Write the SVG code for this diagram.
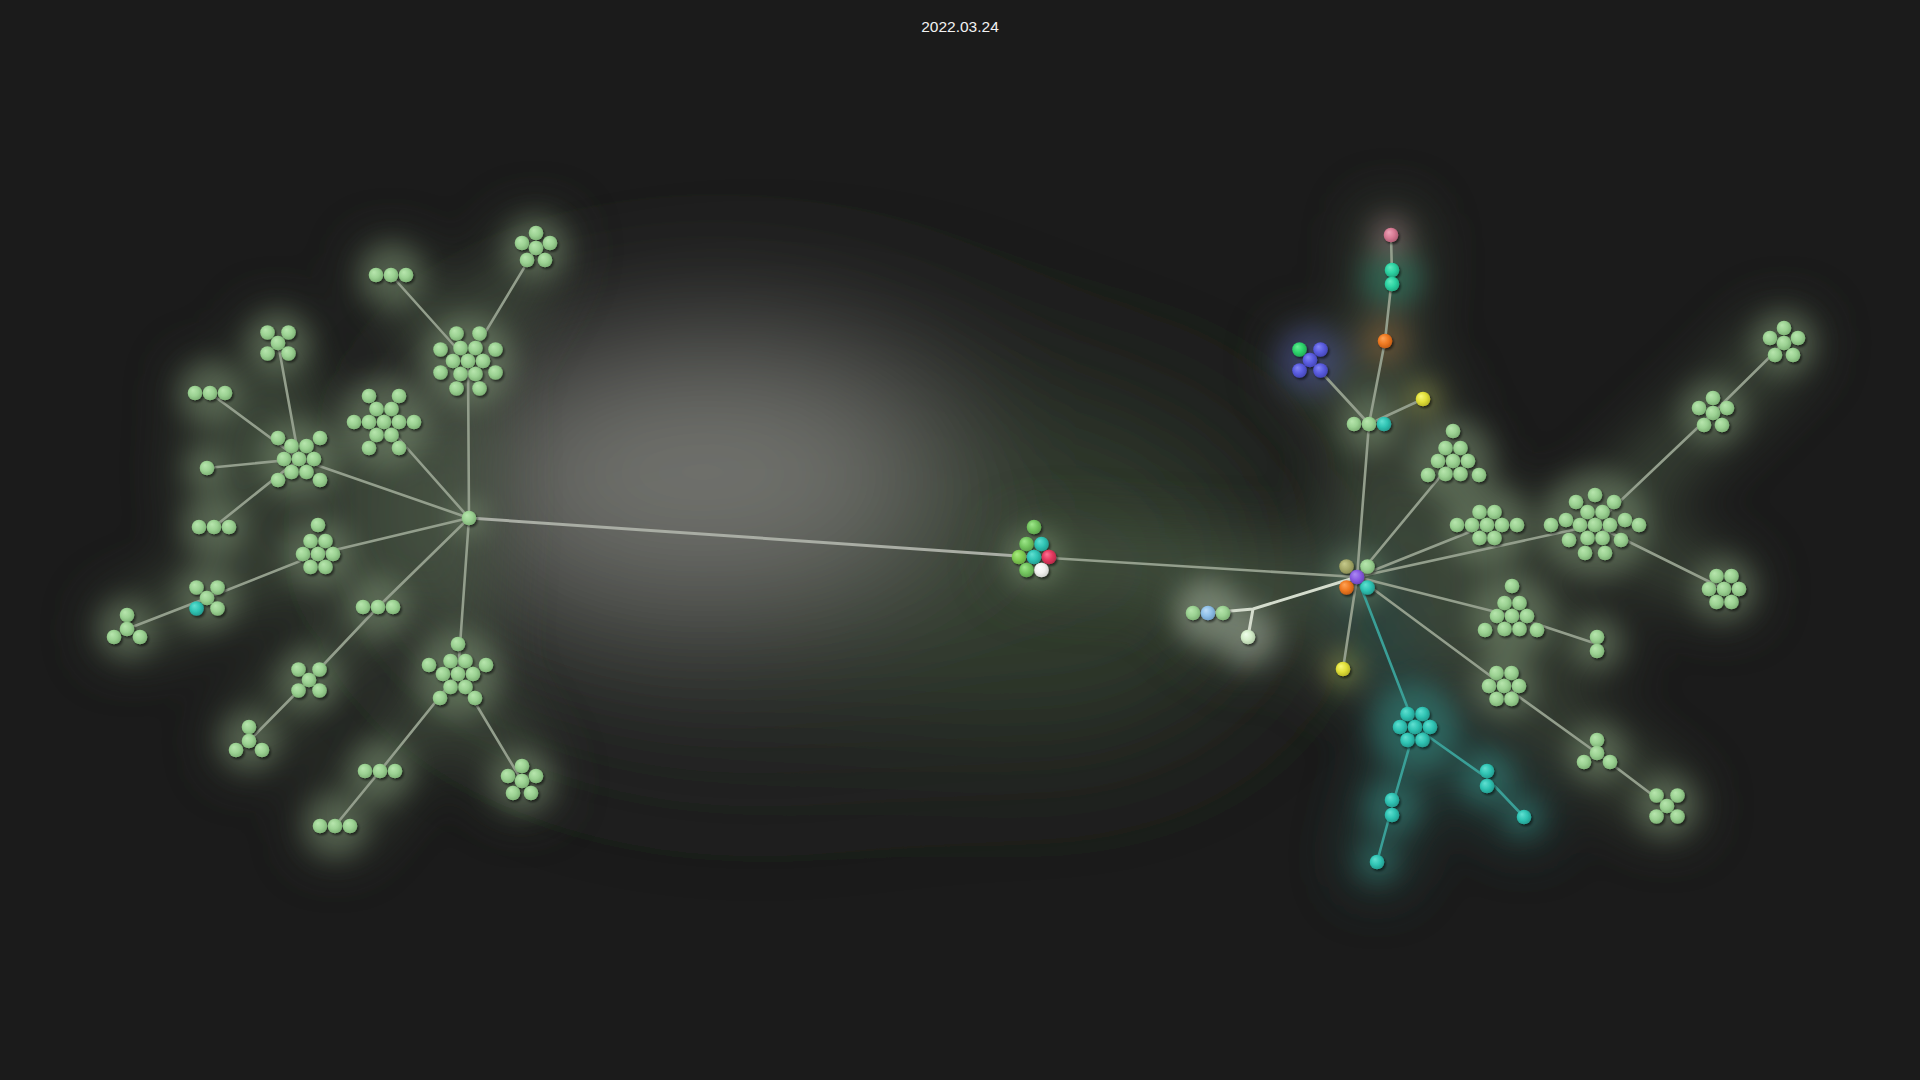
<svg xmlns="http://www.w3.org/2000/svg" width="1920" height="1080" viewBox="0 0 1920 1080">
<defs>
<style>
.e{stroke:#939e8c;stroke-width:2.6;fill:none;stroke-linecap:round}
.et{stroke:#3a9f97}
.ew{stroke:#d4dccd;stroke-width:3}
.em{stroke:#a9ada4;stroke-width:3}
.n{filter:url(#sh)}
.g{fill:url(#cG)}.t{fill:url(#cT)}.t2{fill:url(#cT2)}.o{fill:url(#cO)}.p{fill:url(#cP)}.y{fill:url(#cY)}
.b{fill:url(#cB)}.gg{fill:url(#cGG)}.u{fill:url(#cU)}.ol{fill:url(#cOL)}.lb{fill:url(#cLB)}.w{fill:url(#cW)}
.r{fill:url(#cR)}.wh{fill:url(#cWH)}.g2{fill:url(#cG2)}.g3{fill:url(#cG3)}
.title{font-family:"Liberation Sans",Arial,sans-serif;font-size:15.5px;fill:#f2f2f2}
.halo{fill:#a3bf96}
</style>
<radialGradient id="cG" cx="0.45" cy="0.45" r="0.6" fx="0.35" fy="0.3"><stop offset="0" stop-color="#b8e6ae"/><stop offset="0.55" stop-color="#9cd293"/><stop offset="1" stop-color="#7aae72"/></radialGradient>
<radialGradient id="cT" cx="0.45" cy="0.45" r="0.6" fx="0.35" fy="0.3"><stop offset="0" stop-color="#62e0d2"/><stop offset="0.55" stop-color="#30c4b4"/><stop offset="1" stop-color="#22988c"/></radialGradient>
<radialGradient id="cT2" cx="0.45" cy="0.45" r="0.6" fx="0.35" fy="0.3"><stop offset="0" stop-color="#62eabe"/><stop offset="0.55" stop-color="#2dd3a3"/><stop offset="1" stop-color="#20a47e"/></radialGradient>
<radialGradient id="cO" cx="0.45" cy="0.45" r="0.6" fx="0.35" fy="0.3"><stop offset="0" stop-color="#ffa458"/><stop offset="0.55" stop-color="#ef7a22"/><stop offset="1" stop-color="#c05a14"/></radialGradient>
<radialGradient id="cP" cx="0.45" cy="0.45" r="0.6" fx="0.35" fy="0.3"><stop offset="0" stop-color="#eea4b8"/><stop offset="0.55" stop-color="#d77b94"/><stop offset="1" stop-color="#aa5a70"/></radialGradient>
<radialGradient id="cY" cx="0.45" cy="0.45" r="0.6" fx="0.35" fy="0.3"><stop offset="0" stop-color="#f8f87a"/><stop offset="0.55" stop-color="#e2e03a"/><stop offset="1" stop-color="#b4b224"/></radialGradient>
<radialGradient id="cB" cx="0.45" cy="0.45" r="0.6" fx="0.35" fy="0.3"><stop offset="0" stop-color="#8486f6"/><stop offset="0.55" stop-color="#5a5ce0"/><stop offset="1" stop-color="#4244b4"/></radialGradient>
<radialGradient id="cGG" cx="0.45" cy="0.45" r="0.6" fx="0.35" fy="0.3"><stop offset="0" stop-color="#68ee94"/><stop offset="0.55" stop-color="#2ed46c"/><stop offset="1" stop-color="#20a452"/></radialGradient>
<radialGradient id="cU" cx="0.45" cy="0.45" r="0.6" fx="0.35" fy="0.3"><stop offset="0" stop-color="#ac8af2"/><stop offset="0.55" stop-color="#8a5ce2"/><stop offset="1" stop-color="#6842b4"/></radialGradient>
<radialGradient id="cOL" cx="0.45" cy="0.45" r="0.6" fx="0.35" fy="0.3"><stop offset="0" stop-color="#c6ca8c"/><stop offset="0.55" stop-color="#a6aa6a"/><stop offset="1" stop-color="#848850"/></radialGradient>
<radialGradient id="cLB" cx="0.45" cy="0.45" r="0.6" fx="0.35" fy="0.3"><stop offset="0" stop-color="#bcdcf8"/><stop offset="0.55" stop-color="#90c0e8"/><stop offset="1" stop-color="#6e9cc4"/></radialGradient>
<radialGradient id="cW" cx="0.45" cy="0.45" r="0.6" fx="0.35" fy="0.3"><stop offset="0" stop-color="#f0ffec"/><stop offset="0.55" stop-color="#d4eeca"/><stop offset="1" stop-color="#aec8a4"/></radialGradient>
<radialGradient id="cR" cx="0.45" cy="0.45" r="0.6" fx="0.35" fy="0.3"><stop offset="0" stop-color="#ff7494"/><stop offset="0.55" stop-color="#e43a60"/><stop offset="1" stop-color="#b42646"/></radialGradient>
<radialGradient id="cWH" cx="0.45" cy="0.45" r="0.6" fx="0.35" fy="0.3"><stop offset="0" stop-color="#ffffff"/><stop offset="0.55" stop-color="#f2f2f0"/><stop offset="1" stop-color="#cfd0cc"/></radialGradient>
<radialGradient id="cG2" cx="0.45" cy="0.45" r="0.6" fx="0.35" fy="0.3"><stop offset="0" stop-color="#a0e88c"/><stop offset="0.55" stop-color="#74c660"/><stop offset="1" stop-color="#5a9e4a"/></radialGradient>
<radialGradient id="cG3" cx="0.45" cy="0.45" r="0.6" fx="0.35" fy="0.3"><stop offset="0" stop-color="#aaec82"/><stop offset="0.55" stop-color="#82ce54"/><stop offset="1" stop-color="#64a240"/></radialGradient>
<filter id="sh" x="-30%" y="-30%" width="160%" height="160%"><feDropShadow dx="1.6" dy="2" stdDeviation="1.3" flood-color="#000" flood-opacity="0.55"/></filter>
<filter id="bBig" filterUnits="userSpaceOnUse" x="0" y="0" width="1920" height="1080"><feGaussianBlur stdDeviation="75"/></filter>
<filter id="bMid" filterUnits="userSpaceOnUse" x="0" y="0" width="1920" height="1080"><feGaussianBlur stdDeviation="30"/></filter>
<filter id="bSm" filterUnits="userSpaceOnUse" x="0" y="0" width="1920" height="1080"><feGaussianBlur stdDeviation="13"/></filter>
</defs>

<rect width="1920" height="1080" fill="#1b1b1b"/>

<g id="haze">
  <g filter="url(#bBig)">
    <ellipse cx="760" cy="540" rx="380" ry="220" fill="#2c2e2a"/>
    <ellipse cx="1040" cy="570" rx="230" ry="170" fill="#323c2e"/>
    <ellipse cx="700" cy="470" rx="230" ry="120" fill="#737470"/>
  </g>
  <g filter="url(#bMid)" opacity="0.7" stroke="#4a5944" stroke-width="56" stroke-linecap="round" fill="none">
    <path d="M469 518L468 361L536 248M468 361L391 275M469 518L384 422M469 518L299 459L278 343M299 459L210 393M299 459L207 468M299 459L214 527M469 518L318 554L207 598L127 629M469 518L378 607L309 680L249 741M469 518L458 674L380 771L335 826M458 674L522 781"/>
    <path d="M1034 557L1357 577L1369 424L1385 341L1392 277L1391 235M1369 424L1310 360M1369 424L1423 399M1357 577L1453 461M1357 577L1487 525M1357 577L1595 525L1713 413L1784 343M1595 525L1724 589M1357 577L1512 616L1597 644M1357 577L1504 686L1597 753L1667 806M1357 577L1343 669M1357 577L1253 609L1208 613M1253 609L1248 637"/>
    <path stroke="#2c554f" d="M1357 577L1415 727L1392 807L1377 862M1415 727L1487 778L1524 817"/>
  </g>
  <g filter="url(#bSm)" opacity="0.32">
    <circle class="halo" cx="536" cy="248" r="32"/><circle class="halo" cx="391" cy="275" r="32"/>
    <circle class="halo" cx="468" cy="361" r="46"/><circle class="halo" cx="278" cy="343" r="32"/>
    <circle class="halo" cx="210" cy="393" r="32"/><circle class="halo" cx="299" cy="459" r="40"/>
    <circle class="halo" cx="207" cy="468" r="22"/><circle class="halo" cx="214" cy="527" r="32"/>
    <circle class="halo" cx="384" cy="422" r="46"/><circle class="halo" cx="318" cy="554" r="36"/>
    <circle class="halo" cx="207" cy="598" r="32"/><circle class="halo" cx="127" cy="629" r="30"/>
    <circle class="halo" cx="378" cy="607" r="32"/><circle class="halo" cx="309" cy="680" r="32"/>
    <circle class="halo" cx="249" cy="741" r="30"/><circle class="halo" cx="458" cy="674" r="44"/>
    <circle class="halo" cx="380" cy="771" r="32"/><circle class="halo" cx="335" cy="826" r="32"/>
    <circle class="halo" cx="522" cy="781" r="32"/><circle class="halo" cx="469" cy="518" r="18"/>
    <circle class="halo" cx="1453" cy="461" r="42"/><circle class="halo" cx="1487" cy="525" r="42"/>
    <circle class="halo" cx="1595" cy="525" r="54"/><circle class="halo" cx="1713" cy="413" r="32"/>
    <circle class="halo" cx="1784" cy="343" r="32"/><circle class="halo" cx="1724" cy="589" r="32"/>
    <circle class="halo" cx="1512" cy="616" r="42"/><circle class="halo" cx="1597" cy="644" r="26"/>
    <circle class="halo" cx="1504" cy="686" r="32"/><circle class="halo" cx="1597" cy="753" r="30"/>
    <circle class="halo" cx="1667" cy="806" r="32"/><circle class="halo" cx="1369" cy="424" r="30"/>
    <circle class="halo" cx="1357" cy="577" r="28"/>
    <circle fill="#e4f2dc" cx="1208" cy="613" r="34"/><circle fill="#e8f6e2" cx="1248" cy="637" r="30"/>
    <circle fill="#dede60" cx="1343" cy="669" r="18"/><circle fill="#dede60" cx="1423" cy="399" r="18"/>
    <circle fill="#3fb8ac" cx="1415" cy="727" r="44"/><circle fill="#3fb8ac" cx="1392" cy="807" r="28"/>
    <circle fill="#3fb8ac" cx="1377" cy="862" r="20"/><circle fill="#3fb8ac" cx="1487" cy="778" r="28"/>
    <circle fill="#3fb8ac" cx="1524" cy="817" r="20"/><circle fill="#5a62d8" cx="1310" cy="360" r="34"/>
    <circle fill="#c07a40" cx="1385" cy="341" r="24"/><circle fill="#36b896" cx="1392" cy="277" r="30"/>
    <circle fill="#e2a6b8" cx="1391" cy="235" r="18"/><circle class="halo" cx="1034" cy="557" r="30"/>
  </g>
</g>

<g id="connectors">
  <path class="e em" d="M469 518L1034 557"/>
  <path class="e" d="M1034 557L1357 577"/>
  <path class="e" d="M469 518L468 361L536 248M468 361L391 275M469 518L384 422M469 518L299 459L278 343M299 459L210 393M299 459L207 468M299 459L214 527M469 518L318 554L207 598L127 629M469 518L378 607L309 680L249 741M469 518L458 674L380 771L335 826M458 674L522 781"/>
  <path class="e" d="M1357 577L1369 424L1385 341L1392 277L1391 235M1369 424L1310 360M1369 424L1423 399M1357 577L1453 461M1357 577L1487 525M1357 577L1595 525L1713 413L1784 343M1595 525L1724 589M1357 577L1512 616L1597 644M1357 577L1504 686L1597 753L1667 806M1357 577L1343 669"/>
  <path class="e ew" d="M1357 577L1253 609L1208 613M1253 609L1248 637"/>
  <path class="e et" d="M1357 577L1415 727L1392 807L1377 862M1415 727L1487 778L1524 817"/>
</g>

<g id="nodes">
<g id="hubL" class="n"><circle class="g" cx="469" cy="518" r="7.3"/></g>
<g id="A" class="n" transform="translate(536 248)"><circle class="g" cx="0" cy="-15" r="7.3"/><circle class="g" cx="-14" cy="-5" r="7.3"/><circle class="g" cx="14" cy="-5" r="7.3"/><circle class="g" cx="0" cy="0" r="7.3"/><circle class="g" cx="-9" cy="12" r="7.3"/><circle class="g" cx="9" cy="12" r="7.3"/></g>
<g id="B" class="n" transform="translate(391 275)"><circle class="g" cx="-15" cy="0" r="7.3"/><circle class="g" cx="0" cy="0" r="7.3"/><circle class="g" cx="15" cy="0" r="7.3"/></g>
<g id="L1" class="n" transform="translate(468 361)"><circle class="g" cx="-11.5" cy="-27.5" r="7.3"/><circle class="g" cx="11.5" cy="-27.5" r="7.3"/><circle class="g" cx="-27.5" cy="-11.5" r="7.3"/><circle class="g" cx="27.5" cy="-11.5" r="7.3"/><circle class="g" cx="-27.5" cy="11.5" r="7.3"/><circle class="g" cx="27.5" cy="11.5" r="7.3"/><circle class="g" cx="-11.5" cy="27.5" r="7.3"/><circle class="g" cx="11.5" cy="27.5" r="7.3"/><circle class="g" cx="-7.5" cy="-13" r="7.3"/><circle class="g" cx="7.5" cy="-13" r="7.3"/><circle class="g" cx="-15" cy="0" r="7.3"/><circle class="g" cx="0" cy="0" r="7.3"/><circle class="g" cx="15" cy="0" r="7.3"/><circle class="g" cx="-7.5" cy="13" r="7.3"/><circle class="g" cx="7.5" cy="13" r="7.3"/></g>
<g id="D" class="n" transform="translate(278 343)"><circle class="g" cx="-10.5" cy="-10.5" r="7.3"/><circle class="g" cx="10.5" cy="-10.5" r="7.3"/><circle class="g" cx="0" cy="0" r="7.3"/><circle class="g" cx="-10.5" cy="10.5" r="7.3"/><circle class="g" cx="10.5" cy="10.5" r="7.3"/></g>
<g id="E" class="n" transform="translate(210 393)"><circle class="g" cx="-15" cy="0" r="7.3"/><circle class="g" cx="0" cy="0" r="7.3"/><circle class="g" cx="15" cy="0" r="7.3"/></g>
<g id="F" class="n" transform="translate(299 459)"><circle class="g" cx="-21" cy="-21" r="7.3"/><circle class="g" cx="21" cy="-21" r="7.3"/><circle class="g" cx="-21" cy="21" r="7.3"/><circle class="g" cx="21" cy="21" r="7.3"/><circle class="g" cx="-7.5" cy="-13" r="7.3"/><circle class="g" cx="7.5" cy="-13" r="7.3"/><circle class="g" cx="-15" cy="0" r="7.3"/><circle class="g" cx="0" cy="0" r="7.3"/><circle class="g" cx="15" cy="0" r="7.3"/><circle class="g" cx="-7.5" cy="13" r="7.3"/><circle class="g" cx="7.5" cy="13" r="7.3"/></g>
<g id="G" class="n"><circle class="g" cx="207" cy="468" r="7.3"/></g>
<g id="H" class="n" transform="translate(214 527)"><circle class="g" cx="-15" cy="0" r="7.3"/><circle class="g" cx="0" cy="0" r="7.3"/><circle class="g" cx="15" cy="0" r="7.3"/></g>
<g id="I" class="n" transform="translate(384 422)"><circle class="g" cx="-15" cy="-26" r="7.3"/><circle class="g" cx="15" cy="-26" r="7.3"/><circle class="g" cx="-30" cy="0" r="7.3"/><circle class="g" cx="30" cy="0" r="7.3"/><circle class="g" cx="-15" cy="26" r="7.3"/><circle class="g" cx="15" cy="26" r="7.3"/><circle class="g" cx="-7.5" cy="-13" r="7.3"/><circle class="g" cx="7.5" cy="-13" r="7.3"/><circle class="g" cx="-15" cy="0" r="7.3"/><circle class="g" cx="0" cy="0" r="7.3"/><circle class="g" cx="15" cy="0" r="7.3"/><circle class="g" cx="-7.5" cy="13" r="7.3"/><circle class="g" cx="7.5" cy="13" r="7.3"/></g>
<g id="J" class="n" transform="translate(318 554)"><circle class="g" cx="0" cy="-29" r="7.3"/><circle class="g" cx="-7.5" cy="-13" r="7.3"/><circle class="g" cx="7.5" cy="-13" r="7.3"/><circle class="g" cx="-15" cy="0" r="7.3"/><circle class="g" cx="0" cy="0" r="7.3"/><circle class="g" cx="15" cy="0" r="7.3"/><circle class="g" cx="-7.5" cy="13" r="7.3"/><circle class="g" cx="7.5" cy="13" r="7.3"/></g>
<g id="K" class="n" transform="translate(207 598)"><circle class="g" cx="-10.5" cy="-10.5" r="7.3"/><circle class="g" cx="10.5" cy="-10.5" r="7.3"/><circle class="g" cx="0" cy="0" r="7.3"/><circle class="t" cx="-10.5" cy="10.5" r="7.3"/><circle class="g" cx="10.5" cy="10.5" r="7.3"/></g>
<g id="L" class="n" transform="translate(127 629)"><circle class="g" cx="0" cy="-14" r="7.3"/><circle class="g" cx="0" cy="0" r="7.3"/><circle class="g" cx="-13" cy="8" r="7.3"/><circle class="g" cx="13" cy="8" r="7.3"/></g>
<g id="M" class="n" transform="translate(378 607)"><circle class="g" cx="-15" cy="0" r="7.3"/><circle class="g" cx="0" cy="0" r="7.3"/><circle class="g" cx="15" cy="0" r="7.3"/></g>
<g id="N" class="n" transform="translate(309 680)"><circle class="g" cx="-10.5" cy="-10.5" r="7.3"/><circle class="g" cx="10.5" cy="-10.5" r="7.3"/><circle class="g" cx="0" cy="0" r="7.3"/><circle class="g" cx="-10.5" cy="10.5" r="7.3"/><circle class="g" cx="10.5" cy="10.5" r="7.3"/></g>
<g id="O" class="n" transform="translate(249 741)"><circle class="g" cx="0" cy="-14" r="7.3"/><circle class="g" cx="0" cy="0" r="7.3"/><circle class="g" cx="-13" cy="9" r="7.3"/><circle class="g" cx="13" cy="9" r="7.3"/></g>
<g id="P" class="n" transform="translate(458 674)"><circle class="g" cx="0" cy="-30" r="7.3"/><circle class="g" cx="-29" cy="-9" r="7.3"/><circle class="g" cx="28" cy="-9" r="7.3"/><circle class="g" cx="-18" cy="24" r="7.3"/><circle class="g" cx="17" cy="24" r="7.3"/><circle class="g" cx="-7.5" cy="-13" r="7.3"/><circle class="g" cx="7.5" cy="-13" r="7.3"/><circle class="g" cx="-15" cy="0" r="7.3"/><circle class="g" cx="0" cy="0" r="7.3"/><circle class="g" cx="15" cy="0" r="7.3"/><circle class="g" cx="-7.5" cy="13" r="7.3"/><circle class="g" cx="7.5" cy="13" r="7.3"/></g>
<g id="Q" class="n" transform="translate(380 771)"><circle class="g" cx="-15" cy="0" r="7.3"/><circle class="g" cx="0" cy="0" r="7.3"/><circle class="g" cx="15" cy="0" r="7.3"/></g>
<g id="R" class="n" transform="translate(335 826)"><circle class="g" cx="-15" cy="0" r="7.3"/><circle class="g" cx="0" cy="0" r="7.3"/><circle class="g" cx="15" cy="0" r="7.3"/></g>
<g id="S" class="n" transform="translate(522 781)"><circle class="g" cx="0" cy="-15" r="7.3"/><circle class="g" cx="-14" cy="-5" r="7.3"/><circle class="g" cx="14" cy="-5" r="7.3"/><circle class="g" cx="0" cy="0" r="7.3"/><circle class="g" cx="-9" cy="12" r="7.3"/><circle class="g" cx="9" cy="12" r="7.3"/></g>

<g id="center" class="n" transform="translate(1034 557)"><circle class="g2" cx="0" cy="-30" r="7.3"/><circle class="g2" cx="-7.5" cy="-13" r="7.3"/><circle class="t" cx="7.5" cy="-13" r="7.3"/><circle class="g3" cx="-15" cy="0" r="7.3"/><circle class="t" cx="0" cy="0" r="7.3"/><circle class="r" cx="15" cy="0" r="7.3"/><circle class="g2" cx="-7.5" cy="13" r="7.3"/><circle class="wh" cx="7.5" cy="13" r="7.3"/></g>

<g id="hubR" class="n" transform="translate(1357 577)"><circle class="ol" cx="-10.5" cy="-10.5" r="7.3"/><circle class="g" cx="10.5" cy="-10.5" r="7.3"/><circle class="o" cx="-10.5" cy="10.5" r="7.3"/><circle class="t" cx="10.5" cy="10.5" r="7.3"/><circle class="u" cx="0" cy="0" r="7.3"/></g>
<g id="RU" class="n" transform="translate(1369 424)"><circle class="g" cx="-15" cy="0" r="7.3"/><circle class="g" cx="0" cy="0" r="7.3"/><circle class="t" cx="15" cy="0" r="7.3"/></g>
<g id="orange" class="n"><circle class="o" cx="1385" cy="341" r="7.3"/></g>
<g id="tealPair" class="n"><circle class="t2" cx="1392" cy="270" r="7.3"/><circle class="t2" cx="1392" cy="284" r="7.3"/></g>
<g id="pink" class="n"><circle class="p" cx="1391" cy="235" r="7.3"/></g>
<g id="blueX" class="n" transform="translate(1310 360)"><circle class="gg" cx="-10.5" cy="-10.5" r="7.3"/><circle class="b" cx="10.5" cy="-10.5" r="7.3"/><circle class="b" cx="0" cy="0" r="7.3"/><circle class="b" cx="-10.5" cy="10.5" r="7.3"/><circle class="b" cx="10.5" cy="10.5" r="7.3"/></g>
<g id="yellowU" class="n"><circle class="y" cx="1423" cy="399" r="7.3"/></g>
<g id="T10a" class="n" transform="translate(1453 461)"><circle class="g" cx="0" cy="-30" r="7.3"/><circle class="g" cx="-7.5" cy="-13" r="7.3"/><circle class="g" cx="7.5" cy="-13" r="7.3"/><circle class="g" cx="-15" cy="0" r="7.3"/><circle class="g" cx="0" cy="0" r="7.3"/><circle class="g" cx="15" cy="0" r="7.3"/><circle class="g" cx="-7.5" cy="13" r="7.3"/><circle class="g" cx="7.5" cy="13" r="7.3"/><circle class="g" cx="-25" cy="14" r="7.3"/><circle class="g" cx="26" cy="14" r="7.3"/></g>
<g id="S9" class="n" transform="translate(1487 525)"><circle class="g" cx="-30" cy="0" r="7.3"/><circle class="g" cx="30" cy="0" r="7.3"/><circle class="g" cx="-7.5" cy="-13" r="7.3"/><circle class="g" cx="7.5" cy="-13" r="7.3"/><circle class="g" cx="-15" cy="0" r="7.3"/><circle class="g" cx="0" cy="0" r="7.3"/><circle class="g" cx="15" cy="0" r="7.3"/><circle class="g" cx="-7.5" cy="13" r="7.3"/><circle class="g" cx="7.5" cy="13" r="7.3"/></g>
<g id="B18" class="n" transform="translate(1595 525)"><circle class="g" cx="0" cy="-30" r="7.3"/><circle class="g" cx="-19" cy="-23" r="7.3"/><circle class="g" cx="19" cy="-23" r="7.3"/><circle class="g" cx="-29" cy="-5" r="7.3"/><circle class="g" cx="30" cy="-5" r="7.3"/><circle class="g" cx="-44" cy="0" r="7.3"/><circle class="g" cx="44" cy="0" r="7.3"/><circle class="g" cx="-26" cy="15" r="7.3"/><circle class="g" cx="26" cy="15" r="7.3"/><circle class="g" cx="-10" cy="28" r="7.3"/><circle class="g" cx="10" cy="28" r="7.3"/><circle class="g" cx="-7.5" cy="-13" r="7.3"/><circle class="g" cx="7.5" cy="-13" r="7.3"/><circle class="g" cx="-15" cy="0" r="7.3"/><circle class="g" cx="0" cy="0" r="7.3"/><circle class="g" cx="15" cy="0" r="7.3"/><circle class="g" cx="-7.5" cy="13" r="7.3"/><circle class="g" cx="7.5" cy="13" r="7.3"/></g>
<g id="F5a" class="n" transform="translate(1713 413)"><circle class="g" cx="0" cy="-15" r="7.3"/><circle class="g" cx="-14" cy="-5" r="7.3"/><circle class="g" cx="14" cy="-5" r="7.3"/><circle class="g" cx="0" cy="0" r="7.3"/><circle class="g" cx="-9" cy="12" r="7.3"/><circle class="g" cx="9" cy="12" r="7.3"/></g>
<g id="F5b" class="n" transform="translate(1784 343)"><circle class="g" cx="0" cy="-15" r="7.3"/><circle class="g" cx="-14" cy="-5" r="7.3"/><circle class="g" cx="14" cy="-5" r="7.3"/><circle class="g" cx="0" cy="0" r="7.3"/><circle class="g" cx="-9" cy="12" r="7.3"/><circle class="g" cx="9" cy="12" r="7.3"/></g>
<g id="H7" class="n" transform="translate(1724 589)"><circle class="g" cx="-7.5" cy="-13" r="7.3"/><circle class="g" cx="7.5" cy="-13" r="7.3"/><circle class="g" cx="-15" cy="0" r="7.3"/><circle class="g" cx="0" cy="0" r="7.3"/><circle class="g" cx="15" cy="0" r="7.3"/><circle class="g" cx="-7.5" cy="13" r="7.3"/><circle class="g" cx="7.5" cy="13" r="7.3"/></g>
<g id="T10b" class="n" transform="translate(1512 616)"><circle class="g" cx="0" cy="-30" r="7.3"/><circle class="g" cx="-7.5" cy="-13" r="7.3"/><circle class="g" cx="7.5" cy="-13" r="7.3"/><circle class="g" cx="-15" cy="0" r="7.3"/><circle class="g" cx="0" cy="0" r="7.3"/><circle class="g" cx="15" cy="0" r="7.3"/><circle class="g" cx="-7.5" cy="13" r="7.3"/><circle class="g" cx="7.5" cy="13" r="7.3"/><circle class="g" cx="-27" cy="14" r="7.3"/><circle class="g" cx="25" cy="14" r="7.3"/></g>
<g id="pairR" class="n"><circle class="g" cx="1597" cy="637" r="7.3"/><circle class="g" cx="1597" cy="651" r="7.3"/></g>
<g id="H7b" class="n" transform="translate(1504 686)"><circle class="g" cx="-7.5" cy="-13" r="7.3"/><circle class="g" cx="7.5" cy="-13" r="7.3"/><circle class="g" cx="-15" cy="0" r="7.3"/><circle class="g" cx="0" cy="0" r="7.3"/><circle class="g" cx="15" cy="0" r="7.3"/><circle class="g" cx="-7.5" cy="13" r="7.3"/><circle class="g" cx="7.5" cy="13" r="7.3"/></g>
<g id="triR" class="n" transform="translate(1597 753)"><circle class="g" cx="0" cy="-13" r="7.3"/><circle class="g" cx="0" cy="0" r="7.3"/><circle class="g" cx="-13" cy="9" r="7.3"/><circle class="g" cx="13" cy="9" r="7.3"/></g>
<g id="XR" class="n" transform="translate(1667 806)"><circle class="g" cx="-10.5" cy="-10.5" r="7.3"/><circle class="g" cx="10.5" cy="-10.5" r="7.3"/><circle class="g" cx="0" cy="0" r="7.3"/><circle class="g" cx="-10.5" cy="10.5" r="7.3"/><circle class="g" cx="10.5" cy="10.5" r="7.3"/></g>
<g id="yellowL" class="n"><circle class="y" cx="1343" cy="669" r="7.3"/></g>
<g id="tealHex" class="n" transform="translate(1415 727)"><circle class="t" cx="-7.5" cy="-13" r="7.3"/><circle class="t" cx="7.5" cy="-13" r="7.3"/><circle class="t" cx="-15" cy="0" r="7.3"/><circle class="t" cx="0" cy="0" r="7.3"/><circle class="t" cx="15" cy="0" r="7.3"/><circle class="t" cx="-7.5" cy="13" r="7.3"/><circle class="t" cx="7.5" cy="13" r="7.3"/></g>
<g id="tPair1" class="n"><circle class="t" cx="1392" cy="800" r="7.3"/><circle class="t" cx="1392" cy="815" r="7.3"/></g>
<g id="tSingle1" class="n"><circle class="t" cx="1377" cy="862" r="7.3"/></g>
<g id="tPair2" class="n"><circle class="t" cx="1487" cy="771" r="7.3"/><circle class="t" cx="1487" cy="786" r="7.3"/></g>
<g id="tSingle2" class="n"><circle class="t" cx="1524" cy="817" r="7.3"/></g>
<g id="rowBlue" class="n" transform="translate(1208 613)"><circle class="g" cx="-15" cy="0" r="7.3"/><circle class="lb" cx="0" cy="0" r="7.3"/><circle class="g" cx="15" cy="0" r="7.3"/></g>
<g id="white" class="n"><circle class="w" cx="1248" cy="637" r="7.3"/></g>
</g>

<text class="title" x="960" y="32" text-anchor="middle">2022.03.24</text>
</svg>
